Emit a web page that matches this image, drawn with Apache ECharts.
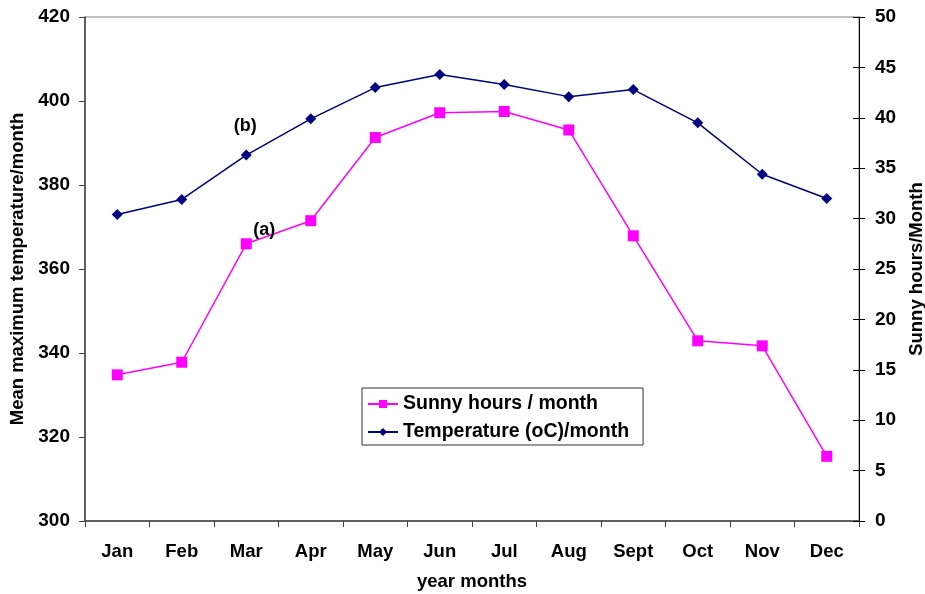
<!DOCTYPE html>
<html><head><meta charset="utf-8">
<script src="https://cdn.jsdelivr.net/npm/echarts@6/dist/echarts.min.js"></script>
<style>html,body{margin:0;padding:0;background:#fff}#c{width:925px;height:594px}</style>
</head><body><div id="c"></div>
<script>
const months = ['Jan','Feb','Mar','Apr','May','Jun','Jul','Aug','Sept','Oct','Nov','Dec'];
const sunnyHours = [334.8, 337.8, 366.0, 371.5, 391.3, 397.2, 397.5, 393.1, 367.9, 342.9, 341.7, 315.4];
const temperature = [30.4, 31.9, 36.3, 39.9, 43.0, 44.3, 43.3, 42.1, 42.8, 39.5, 34.4, 32.0];
const leftTicks = {min: 300, max: 420, interval: 20};
const rightTicks = {min: 0, max: 50, interval: 5};

const font = 'Liberation Sans, Arial, sans-serif';
const chart = echarts.init(document.getElementById('c'), null, {renderer: 'canvas'});
chart.setOption({
  animation: false,
  backgroundColor: '#fff',
  grid: {left: 85, right: 66, top: 17, bottom: 73, containLabel: false, outerBoundsMode: 'none',
         show: true, borderColor: '#808080', borderWidth: 1},
  legend: {
    orient: 'vertical', left: 362, top: 388,
    padding: [6, 14, 3, 5], itemGap: 8, itemWidth: 30, itemHeight: 10,
    borderColor: '#333', borderWidth: 1, backgroundColor: '#fff',
    textStyle: {fontFamily: font, fontWeight: 'bold', fontSize: 19.5, color: '#000'},
    data: ['Sunny hours / month', 'Temperature (oC)/month']
  },
  xAxis: {
    type: 'category', data: months, boundaryGap: true,
    name: 'year months', nameLocation: 'middle', nameGap: 51,
    nameTextStyle: {fontFamily: font, fontWeight: 'bold', fontSize: 18.5, color: '#000'},
    axisLine: {lineStyle: {color: '#404040', width: 1.5}},
    axisTick: {show: true, length: 6, lineStyle: {color: '#404040'}},
    axisLabel: {fontFamily: font, fontWeight: 'bold', fontSize: 18.5, color: '#000', margin: 21},
    splitLine: {show: false}
  },
  yAxis: [{
    type: 'value', position: 'left', min: leftTicks.min, max: leftTicks.max, interval: leftTicks.interval,
    name: 'Mean maximum temperature/month', nameLocation: 'middle', nameGap: 57, nameRotate: 90,
    nameTextStyle: {fontFamily: font, fontWeight: 'bold', fontSize: 18.5, color: '#000'},
    axisLine: {show: true, lineStyle: {color: '#404040', width: 1.5}},
    axisTick: {show: true, length: 6, lineStyle: {color: '#404040'}},
    axisLabel: {fontFamily: font, fontWeight: 'bold', fontSize: 19, color: '#000', margin: 15},
    splitLine: {show: false}
  }, {
    type: 'value', position: 'right', min: rightTicks.min, max: rightTicks.max, interval: rightTicks.interval,
    name: 'Sunny hours/Month', nameLocation: 'middle', nameGap: 47, nameRotate: 90,
    nameTextStyle: {fontFamily: font, fontWeight: 'bold', fontSize: 18.5, color: '#000', verticalAlign: 'top'},
    axisLine: {show: true, lineStyle: {color: '#000', width: 1}},
    axisTick: {show: true, length: 6, lineStyle: {color: '#000'}},
    axisLabel: {fontFamily: font, fontWeight: 'bold', fontSize: 19, color: '#000', margin: 16},
    splitLine: {show: false}
  }, {
    type: 'value', position: 'right', min: rightTicks.min, max: rightTicks.max, interval: rightTicks.interval,
    axisLine: {show: false},
    axisTick: {show: true, inside: true, length: 6, lineStyle: {color: '#000'}},
    axisLabel: {show: false},
    splitLine: {show: false}
  }],
  series: [{
    name: 'Sunny hours / month', type: 'line', yAxisIndex: 0, data: sunnyHours,
    symbol: 'rect', symbolSize: 11,
    lineStyle: {color: '#FF00FF', width: 1.5}, itemStyle: {color: '#FF00FF'},
    markPoint: {
      symbol: 'rect', symbolSize: 1, itemStyle: {color: 'transparent'},
      label: {show: true, formatter: '(a)', fontFamily: font, fontWeight: 'bold', fontSize: 18, color: '#000', position: 'inside'},
      data: [{coord: ['Mar', 366.0], value: 0, label: {offset: [18, -14]}}]
    }
  }, {
    name: 'Temperature (oC)/month', type: 'line', yAxisIndex: 1, data: temperature,
    symbol: 'diamond', symbolSize: 11,
    lineStyle: {color: '#000080', width: 1.5}, itemStyle: {color: '#000080'},
    markPoint: {
      symbol: 'rect', symbolSize: 1, itemStyle: {color: 'transparent'},
      label: {show: true, formatter: '(b)', fontFamily: font, fontWeight: 'bold', fontSize: 18, color: '#000', position: 'inside'},
      data: [{coord: ['Mar', 36.3], value: 0, label: {offset: [-1, -29]}}]
    }
  }]
});
</script></body></html>
